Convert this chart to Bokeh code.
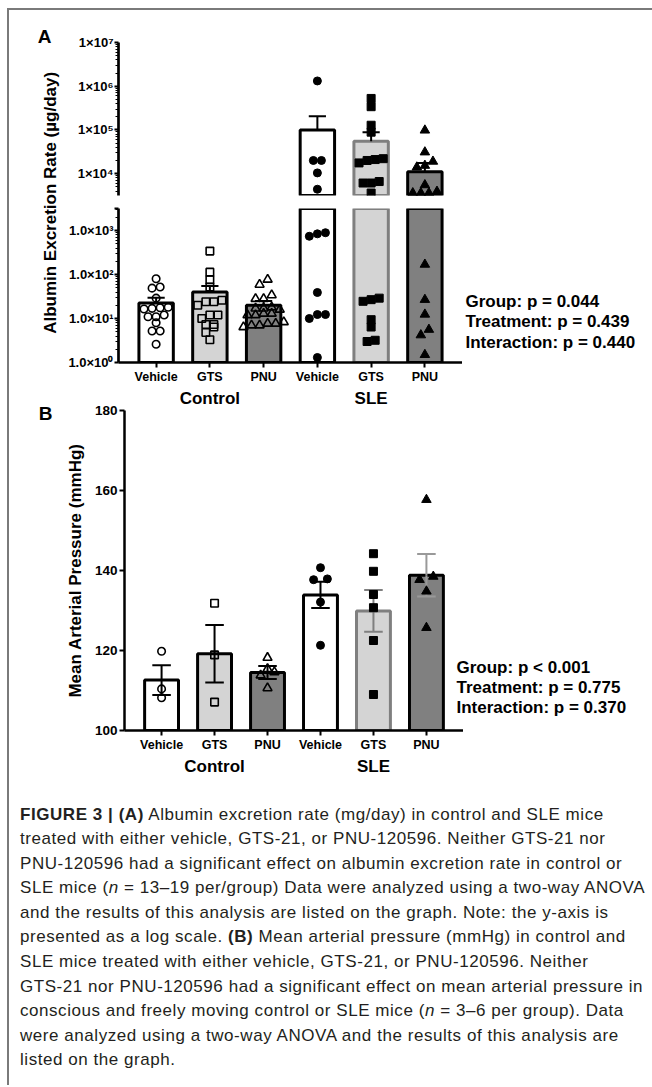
import numpy as np
from bokeh.plotting import figure
from bokeh.models import FactorRange, Range1d, FixedTicker, Div, ColumnDataSource
from bokeh.layouts import row, column
from bokeh.embed import file_html
from bokeh.resources import INLINE
from bokeh.core.properties import value

# ---------------- data ----------------
groups = ["Control", "SLE"]
treatments = ["Vehicle", "GTS", "PNU"]

# Panel A: albumin excretion rate (µg/day), individual animals
alb_ctrl_vehicle = [80, 52, 49, 29, 18, 17.5, 17, 16.5, 12, 11, 11, 8, 5.2, 5.2, 2.6]
alb_ctrl_gts = [340, 113, 76, 52, 26, 24, 24, 20, 12, 12, 10, 7.3, 7.3, 6.4, 4.8, 3.3]
alb_ctrl_pnu = [77, 59, 34, 28, 28, 18, 17, 17, 16, 13, 12, 13, 12, 8.3, 7.7, 7, 7, 7.7, 6.4]
alb_sle_vehicle = [1.32e6, 2.0e4, 2.0e4, 1.04e4, 4.4e3, 890, 840, 740, 39, 12.3, 12.3, 10, 1.3]
alb_sle_gts = [5.25e5, 3.4e5, 1.28e5, 8.9e4, 2.2e4, 2.1e4, 2.0e4, 1.76e4, 6.6e3, 6.1e3, 6.1e3,
               3.6e3, 29, 26.8, 24.6, 9.4, 6.4, 3.2, 3.0]
alb_sle_pnu = [9.8e4, 3.1e4, 1.9e4, 1.53e4, 1.4e4, 5.5e3, 3.9e3, 3.6e3, 3.6e3, 3.6e3,
               169, 26.8, 12.4, 5.6, 4.2, 1.5]
alb_mean = [22.5, 40, 20, 1.0e5, 5.5e4, 1.11e4]
alb_sem = [7.3, 15, 5, 1.06e5, 3.4e4, 6.5e3]
alb_break = 10 ** 3.5
alb_ticks_upper = [1e4, 1e5, 1e6, 1e7]
alb_labels_upper = ["1×10⁴", "1×10⁵", "1×10⁶", "1×10⁷"]
alb_ticks_lower = [1, 10, 100, 1000]
alb_labels_lower = ["1.0×10⁰", "1.0×10¹", "1.0×10²", "1.0×10³"]
alb_stats = ["Group: p = 0.044", "Treatment: p = 0.439", "Interaction: p = 0.440"]

# Panel B: mean arterial pressure (mmHg)
map_ctrl_vehicle = [119.8, 110.4, 108.2]
map_ctrl_gts = [131.8, 118.9, 107.1]
map_ctrl_pnu = [118.2, 115.4, 114.6, 113.8, 110.6]
map_sle_vehicle = [140.7, 137.9, 137.7, 132.1, 121.3]
map_sle_gts = [144.2, 139.8, 134.0, 130.7, 122.5, 109.0]
map_sle_pnu = [157.7, 138.5, 137.7, 134.8, 125.7]
map_mean = [112.6, 119.2, 114.5, 133.9, 129.9, 138.8]
map_sem = [3.7, 7.2, 1.6, 3.3, 5.2, 5.3]
map_ticks = [100, 120, 140, 160, 180]
map_stats = ["Group: p < 0.001", "Treatment: p = 0.775", "Interaction: p = 0.370"]

# ---------------- styles ----------------
FONT = "Liberation Sans"
bar_fill = ["white", "#d4d4d4", "#808080", "white", "#d4d4d4", "#808080"]
bar_line = ["black", "black", "black", "black", "#7f7f7f", "black"]
err_col_b = ["black", "black", "black", "black", "#7f7f7f", "#999999"]
markers = ["circle", "square", "triangle"] * 2
msize = [7.5, 7.5, 9, 8, 8, 9.5]
factors = [(g, t) for g in groups for t in treatments]

alb_sets = [alb_ctrl_vehicle, alb_ctrl_gts, alb_ctrl_pnu, alb_sle_vehicle, alb_sle_gts, alb_sle_pnu]
map_sets = [map_ctrl_vehicle, map_ctrl_gts, map_ctrl_pnu, map_sle_vehicle, map_sle_gts, map_sle_pnu]


def swarm(vals, px, thresh, step):
    order = sorted(range(len(vals)), key=lambda i: vals[i])
    rows, cur = [], [order[0]]
    for i in order[1:]:
        if px(vals[i]) - px(vals[cur[0]]) < thresh:
            cur.append(i)
        else:
            rows.append(cur)
            cur = [i]
    rows.append(cur)
    off = [0.0] * len(vals)
    for r in rows:
        for j, i in enumerate(r):
            off[i] = (j - (len(r) - 1) / 2) * step
    return off


def make_range():
    return FactorRange(factors=factors, group_padding=0, factor_padding=0,
                       range_padding=0.2, range_padding_units="absolute")


def base_fig(**kw):
    p = figure(output_backend="svg", toolbar_location=None, **kw)
    p.xgrid.visible = False
    p.ygrid.visible = False
    p.outline_line_color = None
    p.background_fill_color = "white"
    p.border_fill_color = "white"
    return p


def text_fig(w, h, **kw):
    return base_fig(width=w, height=h, x_range=Range1d(0, w), y_range=Range1d(h, 0),
                    x_axis_location=None, y_axis_location=None, min_border=0, **kw)


def style_x(p, standoff=2, tick=5):
    ax = p.xaxis[0]
    ax.axis_line_width = 2.5
    ax.axis_line_color = "black"
    ax.major_tick_out = tick
    ax.major_tick_in = 0
    ax.major_tick_line_width = 2
    ax.minor_tick_out = 0
    ax.major_label_text_font = FONT
    ax.major_label_text_font_style = "bold"
    ax.major_label_text_font_size = "12.5px"
    ax.major_label_text_color = "black"
    ax.major_label_standoff = standoff
    ax.axis_label_standoff = 0
    ax.group_text_font = FONT
    ax.group_text_font_style = "bold"
    ax.group_text_font_size = "17px"
    ax.group_text_color = "black"
    ax.separator_line_alpha = 0


def draw_bars(p, means, width, lw, base, keep=lambda m: True):
    idx = [k for k in range(6) if keep(means[k])]
    src = ColumnDataSource(dict(x=[factors[k] for k in idx], top=[means[k] for k in idx],
                                fill=[bar_fill[k] for k in idx], line=[bar_line[k] for k in idx]))
    p.vbar(x="x", top="top", bottom=base, width=width, source=src,
           fill_color="fill", line_color="line", line_width=lw)


def draw_points(p, sets, keep, px, thresh, step, filled_from=3):
    for k, vals in enumerate(sets):
        offs = swarm(vals, px, thresh, step)
        xs, ys = [], []
        for v, o in zip(vals, offs):
            if keep(v):
                xs.append(factors[k] + (o,))
                ys.append(v)
        if not xs:
            continue
        filled = k >= filled_from
        p.scatter(x=xs, y=ys, marker=markers[k], size=msize[k],
                  line_color="black", line_width=1.6 if not filled else 1,
                  fill_color="black" if filled else None)


def draw_err(p, means, sems, colors, both, half, lw, keep=lambda m: True):
    for k in range(6):
        m, s = means[k], sems[k]
        if not keep(m):
            continue
        ends = [m + s] + ([m - s] if both else [])
        for e in ends:
            p.segment(x0=[factors[k]], y0=[m], x1=[factors[k]], y1=[e],
                      line_color=colors[k], line_width=lw)
            p.segment(x0=[factors[k] + (-half,)], y0=[e], x1=[factors[k] + (half,)], y1=[e],
                      line_color=colors[k], line_width=lw)


def style_log_y(p, ticks, labels, lo_dec, hi_dec, extra=None):
    minor = [m * 10 ** d for d in range(lo_dec, hi_dec) for m in range(2, 10)]
    all_ticks = list(ticks) + ([extra] if extra else [])
    ax = p.yaxis[0]
    ax.ticker = FixedTicker(ticks=all_ticks, minor_ticks=minor)
    ov = {t: l for t, l in zip(ticks, labels)}
    if extra:
        ov[extra] = ""
    ax.major_label_overrides = ov
    ax.axis_line_width = 2.7
    ax.axis_line_color = "black"
    ax.major_tick_out = 4
    ax.major_tick_in = 0
    ax.major_tick_line_width = 2
    ax.minor_tick_out = 3
    ax.minor_tick_in = 0
    ax.minor_tick_line_width = 1
    ax.major_label_standoff = 1
    ax.major_label_text_font = FONT
    ax.major_label_text_font_style = "bold"
    ax.major_label_text_font_size = "13px"
    ax.major_label_text_color = "black"


def stats_text(p, x, ys, lines):
    p.text(x=[x] * len(lines), y=ys, text=lines, text_font=value(FONT), text_font_style="bold",
           text_font_size="17px", text_align="left", text_baseline="middle", text_color="black")


# ---------------- Panel A ----------------
xr_a = make_range()
logpx = lambda v: 44 * np.log10(v)
up_keep = lambda v: v >= alb_break

pA_up = base_fig(width=400, height=191, x_range=xr_a, y_range=Range1d(alb_break, 1e7),
                 y_axis_type="log", x_axis_location=None,
                 min_border_left=56, min_border_right=0, min_border_top=32, min_border_bottom=6)
# the lower panel's x-axis needs 48 px; its blank bottom 6 px tucks under panel B's row
pA_lo = base_fig(width=400, height=209, x_range=xr_a, y_range=Range1d(1, alb_break),
                 y_axis_type="log", margin=(0, 0, -6, 0),
                 min_border_left=56, min_border_right=0, min_border_top=7, min_border_bottom=48)

draw_bars(pA_up, alb_mean, 0.64, 3, 1, keep=up_keep)
draw_err(pA_up, alb_mean, alb_sem, ["black"] * 6, False, 0.16, 2, keep=up_keep)
draw_bars(pA_lo, alb_mean, 0.64, 3, 1)
draw_err(pA_lo, alb_mean, alb_sem, ["black"] * 6, False, 0.16, 2, keep=lambda m: m < alb_break)

draw_points(pA_up, alb_sets, up_keep, logpx, 6, 0.15)
draw_points(pA_lo, alb_sets, lambda v: v < alb_break, logpx, 6, 0.15)

style_log_y(pA_up, alb_ticks_upper, alb_labels_upper, 3, 7)
style_log_y(pA_lo, alb_ticks_lower, alb_labels_lower, 0, 4, extra=10 ** 3.4995)
style_x(pA_lo)

labA = text_fig(53, 394)
labA.text(x=[35], y=[26], text=["A"], text_font=value(FONT), text_font_style="bold",
          text_font_size="19px", text_align="center", text_baseline="middle", text_color="black")
labA.text(x=[41], y=[190], text=["Albumin Excretion Rate  (µg/day)"], angle=np.pi / 2,
          text_font=value(FONT), text_font_style="bold", text_font_size="17px",
          text_align="center", text_baseline="middle", text_color="black")

statsA = text_fig(190, 394)
stats_text(statsA, 3, [290.7, 311.2, 332.0], alb_stats)

rowA = row(labA, column(pA_up, pA_lo), statsA)

# ---------------- Panel B ----------------
xr_b = make_range()
pB = base_fig(width=401, height=376, x_range=xr_b, y_range=Range1d(100, 180),
              min_border_left=59, min_border_right=0, min_border_top=6, min_border_bottom=50)
draw_bars(pB, map_mean, 0.64, 3, 100)
draw_err(pB, map_mean, map_sem, err_col_b, True, 0.175, 2)
draw_points(pB, map_sets, lambda v: True, lambda v: 4 * v, 6, 0.26)
style_x(pB)
ay = pB.yaxis[0]
ay.ticker = FixedTicker(ticks=map_ticks)
ay.axis_line_width = 2.5
ay.axis_line_color = "black"
ay.major_tick_out = 5
ay.major_tick_in = 0
ay.major_tick_line_width = 2
ay.minor_tick_out = 0
ay.minor_tick_in = 0
ay.major_label_standoff = 2
ay.major_label_text_font = FONT
ay.major_label_text_font_style = "bold"
ay.major_label_text_font_size = "13.5px"
ay.major_label_text_color = "black"
ay.axis_label = "Mean Arterial Pressure (mmHg)"
ay.axis_label_text_font = FONT
ay.axis_label_text_font_style = "bold"
ay.axis_label_text_font_size = "17px"
ay.axis_label_text_color = "black"
ay.axis_label_standoff = 7

labB = text_fig(53, 376)
labB.text(x=[36], y=[9], text=["B"], text_font=value(FONT), text_font_style="bold",
          text_font_size="19px", text_align="center", text_baseline="middle", text_color="black")

# transparent text panel that slides 8 px over the right end of panel B's frame
statsB = text_fig(197, 376, margin=(0, 0, 0, -8))
statsB.border_fill_color = None
statsB.background_fill_color = None
stats_text(statsB, 1, [262.7, 283.0, 303.3], map_stats)

rowB = row(labB, column(pB), statsB)

# ---------------- caption ----------------
caption_lines = [
    "<b>FIGURE 3 | (A)</b> Albumin excretion rate (mg/day) in control and SLE mice",
    "treated with either vehicle, GTS-21, or PNU-120596. Neither GTS-21 nor",
    "PNU-120596 had a significant effect on albumin excretion rate in control or",
    "SLE mice (<i>n</i> = 13–19 per/group) Data were analyzed using a two-way ANOVA",
    "and the results of this analysis are listed on the graph. Note: the y-axis is",
    "presented as a log scale. <b>(B)</b> Mean arterial pressure (mmHg) in control and",
    "SLE mice treated with either vehicle, GTS-21, or PNU-120596. Neither",
    "GTS-21 nor PNU-120596 had a significant effect on mean arterial pressure in",
    "conscious and freely moving control or SLE mice (<i>n</i> = 3–6 per group). Data",
    "were analyzed using a two-way ANOVA and the results of this analysis are",
    "listed on the graph.",
]
cap_html = ('<div style="font-family:\'Liberation Sans\',Arial,sans-serif;font-size:17px;'
            'letter-spacing:0.55px;line-height:24.6px;color:#231f20;'
            'padding:22.5px 0 0 11px;white-space:nowrap;">'
            + "<br>".join(caption_lines) + "</div>")
caption = Div(text=cap_html, width=643, height=305, margin=0)

content = column(rowA, rowB, caption)
GRAY = "#7a7a7a"
root = row(
    Div(text="", width=7, height=1085, margin=0),
    column(
        Div(text="", width=645, height=8, margin=0),
        Div(text="", width=645, height=2, margin=0, styles={"background-color": GRAY}),
        row(Div(text="", width=2, height=1075, margin=0, styles={"background-color": GRAY}),
            content),
    ),
)

open("out.html", "w").write(file_html(root, INLINE))
